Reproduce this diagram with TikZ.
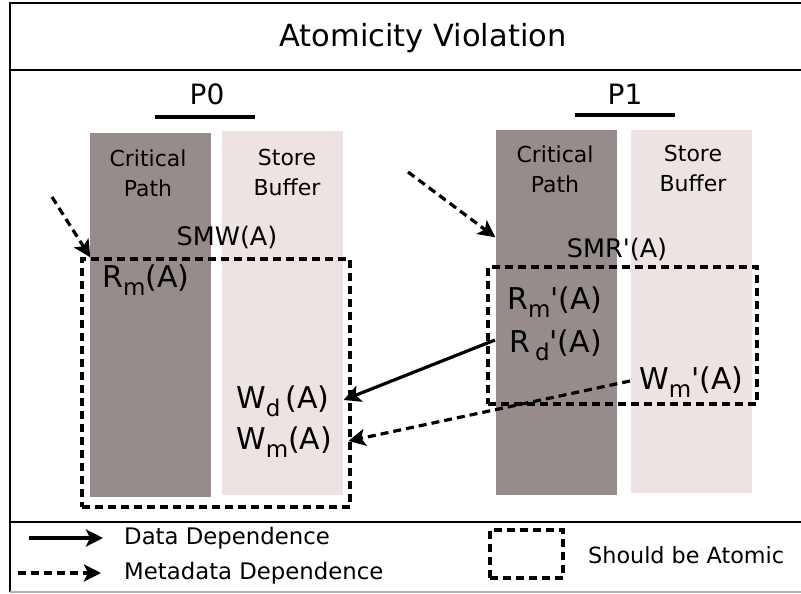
\documentclass[tikz,border=0pt]{standalone}
\usepackage{fontspec}
\setmainfont{DejaVu Sans}
\usetikzlibrary{arrows.meta}
\definecolor{critcol}{RGB}{150,140,140}
\definecolor{bufcol}{RGB}{237,227,227}
\newcommand\lowsub[1]{\raisebox{-0.28em}{\fontsize{23}{23}\selectfont #1}}
\newcommand\pr{\textquotesingle}
\tikzset{
  frame/.style={line width=2.4pt},
  critcolumn/.style={fill=critcol, draw=none, minimum width=121pt, anchor=north west, inner sep=0pt},
  bufcolumn/.style={fill=bufcol, draw=none, minimum width=121pt, anchor=north west, inner sep=0pt},
  coltext/.style={font=\fontsize{22}{30}\selectfont, align=center, inner sep=0pt},
  oplabel/.style={font=\fontsize{30}{32}\selectfont, inner sep=0pt, anchor=west},
  setlabel/.style={font=\fontsize{25.5}{27}\selectfont, inner sep=0pt},
  atomic/.style={draw, dash pattern=on 8pt off 5pt, line width=3.4pt, inner sep=0pt},
  dataarrow/.style={line width=3.2pt, -{Stealth[length=17pt,width=17pt,inset=4pt]}},
  metaarrow/.style={line width=3.2pt, dash pattern=on 8pt off 5pt, -{Stealth[length=17pt,width=17pt,inset=4pt]}},
  legendtext/.style={font=\fontsize{22.8}{25}\selectfont, inner sep=0pt, anchor=west},
}
\begin{document}
\begin{tikzpicture}[x=1pt,y=-1pt]
\useasboundingbox (0,0) rectangle (801,594);
% outer frame and section rules
\draw[frame] (803,3) -- (10,3) -- (10,592);
\draw[frame] (10,70) -- (803,70);
\draw[frame] (10,522) -- (803,522);
\draw[line width=1.2pt, gray!60] (10,592) -- (803,592);

\node[font=\fontsize{30.5}{32}\selectfont, inner sep=0pt] (title) at (423,38) {Atomicity Violation};

% processor headings
\node[font=\fontsize{28}{30}\selectfont, inner sep=0pt] (p0) at (207,94) {P0};
\node[font=\fontsize{28}{30}\selectfont, inner sep=0pt] (p1) at (625,94) {P1};
\draw[line width=3.6pt] (155,117) -- (255,117);
\draw[line width=3.6pt] (575,115) -- (675,115);

% P0 columns
\node[critcolumn, minimum height=364pt] (crit0) at (90,133) {};
\node[bufcolumn, minimum height=364pt] (buf0) at (222,131) {};
\node[coltext] (crit0t) at (148,173) {Critical\\Path};
\node[coltext] (buf0t) at (287,172) {Store\\Buffer};

% P1 columns
\node[critcolumn, minimum height=365pt] (crit1) at (496,130) {};
\node[bufcolumn, minimum height=363pt] (buf1) at (631,130) {};
\node[coltext] (crit1t) at (555,169) {Critical\\Path};
\node[coltext] (buf1t) at (693,168) {Store\\Buffer};

% atomic regions
\node[atomic, minimum width=268pt, minimum height=248pt] (box0) at (216,383) {};
\node[atomic, minimum width=269pt, minimum height=137pt] (box1) at (622.5,335.5) {};
\node[setlabel] (smw) at (227,238) {SMW(A)};
\node[setlabel] (smr) at (617,250) {SMR\pr(A)};

% operations
\node[oplabel] (rm0) at (102,280) {R\lowsub{m}(A)};
\node[oplabel] (wd0) at (236,401) {W\lowsub{d}\,(A)};
\node[oplabel] (wm0) at (236,442) {W\lowsub{m}(A)};
\node[oplabel] (rm1) at (507,302) {R\lowsub{m}\pr(A)};
\node[oplabel] (rd1) at (509,345) {R\,\lowsub{d}\pr(A)};
\node[oplabel] (wm1) at (639,382) {W\lowsub{m}\pr(A)};

% dependences
\coordinate (in0) at (52,197);
\coordinate (in1) at (408,172);
\draw[metaarrow] (in0) -- ([xshift=10pt]box0.north west);
\draw[metaarrow] (in1) -- ([xshift=9pt,yshift=28pt]box1.north west);
\draw[dataarrow] ([xshift=-14pt,yshift=5pt]rd1.west) -- ([xshift=14pt,yshift=1pt]wd0.east);
\draw[metaarrow] ([xshift=-9pt,yshift=1pt]wm1.west) -- ([xshift=16pt,yshift=1pt]wm0.east);

% legend
\coordinate (ld0) at (29,538);
\coordinate (ld1) at (103,538);
\coordinate (lm0) at (18,573);
\coordinate (lm1) at (101,573);
\draw[dataarrow] (ld0) -- (ld1);
\draw[metaarrow] (lm0) -- (lm1);
\node[legendtext] (ldt) at (124,538) {Data Dependence};
\node[legendtext] (lmt) at (124,573) {Metadata Dependence};
\node[atomic, minimum width=73pt, minimum height=48pt] (lbox) at (526.5,554) {};
\node[legendtext, font=\fontsize{22.3}{25}\selectfont] (lbt) at (588,555) {Should be Atomic};
\end{tikzpicture}
\end{document}
